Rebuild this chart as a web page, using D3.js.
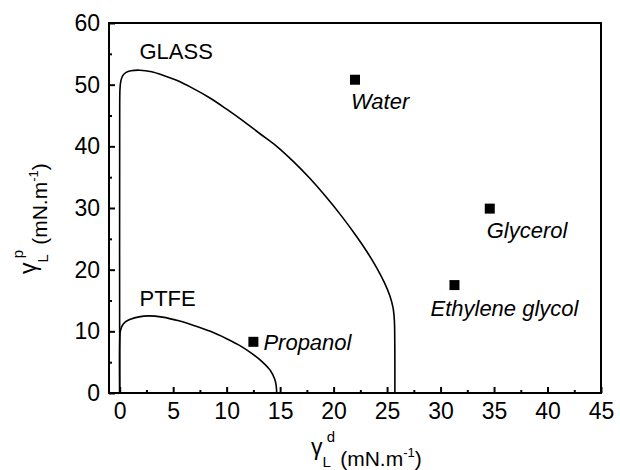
<!DOCTYPE html>
<html>
<head>
<meta charset="utf-8">
<script src="https://cdn.jsdelivr.net/npm/d3@7"></script>
<style>
  body { margin: 0; background: #fff; }
  text { font-family: "Liberation Sans", Arial, sans-serif; fill: #000; }
</style>
</head>
<body>
<div id="chart"></div>
<script>
// wetting envelopes (gamma_L^d, gamma_L^p)
var glassX = [0, 0, 0.03, 0.12, 0.3, 0.6, 1.05, 1.87, 2.99, 4.1, 5.32, 6.85, 8.48, 10.1, 11.63, 13.15, 14.68, 16.2, 17.73, 19.25, 20.78, 22.1, 23.12, 24.03, 24.75, 25.25, 25.56, 25.68, 25.72, 25.73];
var glassY = [0, 45, 49.4, 50.7, 51.5, 52.0, 52.25, 52.35, 52.1, 51.5, 50.7, 49.4, 47.8, 45.9, 44.0, 42.0, 40.0, 37.6, 34.9, 31.9, 28.6, 25.5, 22.9, 20.3, 17.9, 15.8, 13.8, 11.8, 8, 0];

var ptfeX = [0, 0, 0.05, 0.2, 0.5, 1.0, 1.8, 2.7, 4.0, 5.53, 6.85, 8.48, 10.0, 11.32, 12.44, 13.36, 14.07, 14.48, 14.63, 14.68];
var ptfeY = [0, 8, 9.9, 10.8, 11.5, 11.95, 12.35, 12.5, 12.3, 11.7, 11.0, 10.0, 8.8, 7.6, 6.3, 5.0, 3.7, 2.3, 1.2, 0];

// probe liquids
var liquids = ["Water", "Propanol", "Ethylene glycol", "Glycerol"];
var liquidD = [22.0, 12.5, 31.3, 34.6];
var liquidP = [50.8, 8.3, 17.5, 29.9];

var xTicks = [0, 5, 10, 15, 20, 25, 30, 35, 40, 45];
var yTicks = [0, 10, 20, 30, 40, 50, 60];

var width = 620;
var height = 470;
var plotL = 109, plotR = 601, plotT = 23, plotB = 393;

var svg = d3.select("#chart")
  .append("svg")
  .attr("width", width)
  .attr("height", height);

var x = d3.scaleLinear().domain([-1, 45]).range([plotL, plotR]);
var y = d3.scaleLinear().domain([0, 60]).range([plotB, plotT]);

// minor ticks halfway between majors
var xMinor = d3.range(2.5, 45, 5);
var yMinor = d3.range(5, 60, 10);

var xAxis = svg.append("g")
  .attr("transform", "translate(0," + plotB + ")")
  .call(d3.axisBottom(x).tickValues(xTicks).tickSize(-6).tickPadding(10).tickFormat(d3.format("d")));
xAxis.selectAll("text").attr("font-size", 23).attr("dy", "0.71em");

svg.append("g")
  .attr("transform", "translate(0," + plotB + ")")
  .call(d3.axisBottom(x).tickValues(xMinor).tickSize(-3).tickFormat(""));

var yAxis = svg.append("g")
  .attr("transform", "translate(" + plotL + ",0)")
  .call(d3.axisLeft(y).tickValues(yTicks).tickSize(-6).tickPadding(9).tickFormat(d3.format("d")));
yAxis.selectAll("text").attr("font-size", 23);

svg.append("g")
  .attr("transform", "translate(" + plotL + ",0)")
  .call(d3.axisLeft(y).tickValues(yMinor).tickSize(-3).tickFormat(""));

svg.selectAll(".tick line").attr("stroke", "#000").attr("stroke-width", 2);
svg.selectAll(".domain").remove();

// frame
svg.append("rect")
  .attr("x", plotL)
  .attr("y", plotT)
  .attr("width", plotR - plotL)
  .attr("height", plotB - plotT)
  .attr("fill", "none")
  .attr("stroke", "#000")
  .attr("stroke-width", 2);

var line = d3.line()
  .x(function(d) { return x(d[0]); })
  .y(function(d) { return y(d[1]); })
  .curve(d3.curveCatmullRom.alpha(0.5));

svg.append("path")
  .datum(d3.zip(glassX, glassY))
  .attr("d", line)
  .attr("fill", "none")
  .attr("stroke", "#000")
  .attr("stroke-width", 1.6);

svg.append("path")
  .datum(d3.zip(ptfeX, ptfeY))
  .attr("d", line)
  .attr("fill", "none")
  .attr("stroke", "#000")
  .attr("stroke-width", 1.6);

svg.append("text").attr("x", x(1.85)).attr("y", y(54.1)).attr("font-size", 22).text("GLASS");
svg.append("text").attr("x", x(1.85)).attr("y", y(14.1)).attr("font-size", 22).text("PTFE");

var pts = d3.zip(liquids, liquidD, liquidP);
var sq = 10;
svg.selectAll(".pt")
  .data(pts)
  .enter()
  .append("rect")
  .attr("class", "pt")
  .attr("x", function(d) { return x(d[1]) - sq / 2; })
  .attr("y", function(d) { return y(d[2]) - sq / 2; })
  .attr("width", sq)
  .attr("height", sq)
  .attr("fill", "#000");

// label offsets from their marker, in px
var labelOff = { "Water": [-4, 29], "Propanol": [10, 8], "Ethylene glycol": [-24, 31], "Glycerol": [-3, 29] };
svg.selectAll(".lbl")
  .data(pts)
  .enter()
  .append("text")
  .attr("class", "lbl")
  .attr("x", function(d) { return x(d[1]) + labelOff[d[0]][0]; })
  .attr("y", function(d) { return y(d[2]) + labelOff[d[0]][1]; })
  .attr("font-size", 22)
  .attr("font-style", "italic")
  .text(function(d) { return d[0]; });

// axis titles: gamma raised, L subscript, d/p superscript
function title(g, sup) {
  var t = g.append("text").attr("font-size", 21);
  t.append("tspan").attr("font-size", 23).attr("dy", -11).text("\u03b3");
  t.append("tspan").attr("font-size", 15).attr("dy", 12).text("L");
  t.append("tspan").attr("font-size", 15).attr("dx", -4).attr("dy", -25).text(sup);
  t.append("tspan").attr("dx", 5).attr("dy", 24).text("(mN.m");
  t.append("tspan").attr("font-size", 13).attr("dy", -9).text("-1");
  t.append("tspan").attr("dy", 9).text(")");
}

title(svg.append("g").attr("transform", "translate(311,466)"), "d");
title(svg.append("g").attr("transform", "translate(47,274)rotate(-90)"), "p");
</script>
</body>
</html>
